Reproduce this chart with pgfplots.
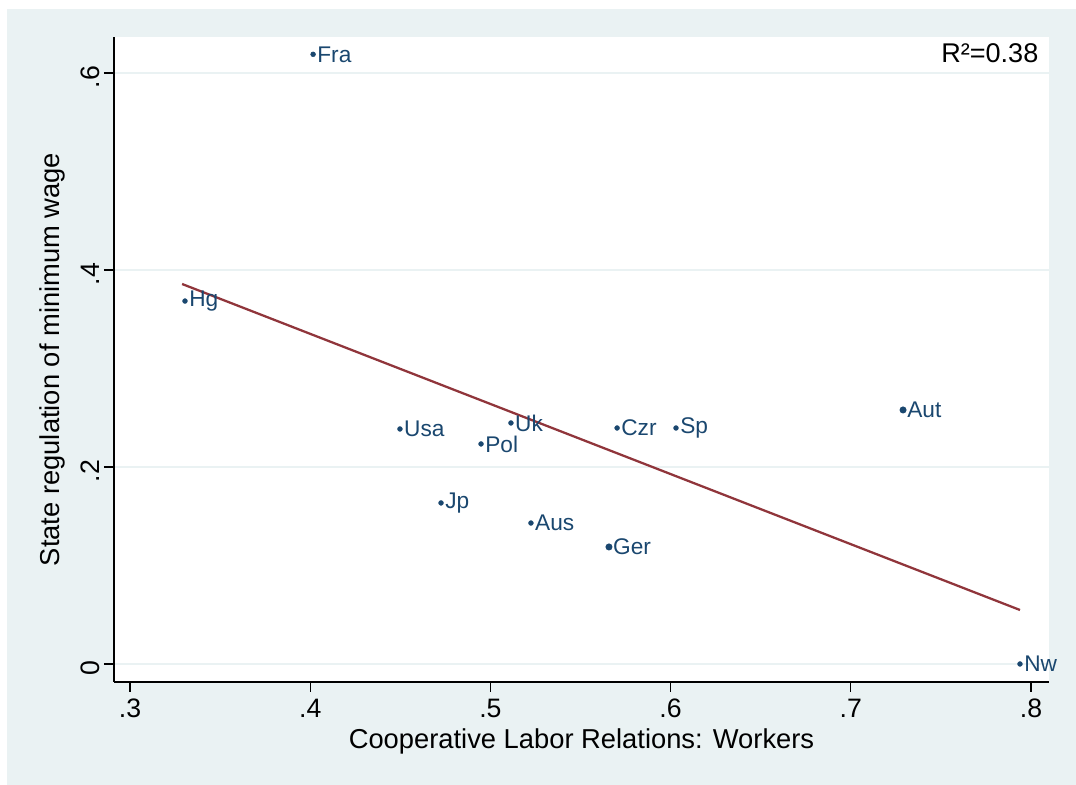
\documentclass[border=0pt]{standalone}
\usepackage{pgfplots}
\pgfplotsset{compat=1.18}
\usepackage{fontspec}
\setmainfont{Liberation Sans}
\definecolor{stbg}{HTML}{EAF2F3}
\definecolor{stnavy}{HTML}{1A476F}
\definecolor{stmaroon}{HTML}{90353B}
\begin{document}
\begin{tikzpicture}
% outer frame, 1px = 0.75pt
\path[use as bounding box, fill=white] (-85.5pt,-77.25pt) rectangle (721.5pt,511.5pt);
\fill[stbg] (-80.25pt,-77.25pt) rectangle (721.5pt,504.75pt);
\begin{axis}[
  scale only axis,
  width=701.25pt, height=483.75pt,
  axis background/.style={fill=white},
  xmin=0.2911, xmax=0.810,
  ymin=-0.0183, ymax=0.6366,
  axis x line*=bottom, axis y line*=left,
  axis line style={black, line width=1pt, -},
  tick align=outside,
  major tick length=7.5pt,
  tick style={black, line width=1pt},
  xtick={0.3,0.4,0.5,0.6,0.7,0.8},
  xticklabels={.3,.4,.5,.6,.7,.8},
  xticklabel style={yshift=-2pt},
  ytick={0,0.2,0.4,0.6},
  yticklabels={0,.2,.4,.6},
  yticklabel style={rotate=90, anchor=south, xshift=-3pt},
  ymajorgrids,
  major grid style={stbg, line width=1.1pt},
  tick label style={font=\fontsize{20}{23}\selectfont},
  label style={font=\fontsize{20.5}{24}\selectfont},
  xlabel={Cooperative Labor Relations: Workers},
  ylabel={State regulation of minimum wage},
  xlabel style={at={(axis description cs:0.5,-0.092)}, anchor=center},
  ylabel style={at={(axis description cs:-0.0663,0.5)}, anchor=center},
  clip=false,
]
% fitted line
\addplot[stmaroon, line width=1.7pt] coordinates {(0.3289,0.3858) (0.7939,0.0548)};
% countries
\addplot[only marks, mark=*, mark size=1.8pt, stnavy,
  nodes near coords, point meta=explicit symbolic,
  nodes near coords style={anchor=west, inner sep=3pt, text=stnavy,
    font=\fontsize{17}{20}\selectfont}]
  table[meta=lab] {
x y lab
0.4016 0.6190 Fra
0.3305 0.3685 Hg
0.4498 0.2386 Usa
0.5114 0.2447 Uk
0.4948 0.2234 Pol
0.5703 0.2396 Czr
0.6030 0.2396 Sp
0.4726 0.1635 Jp
0.5225 0.1431 Aus
0.5658 0.1188 Ger
0.7290 0.2579 Aut
0.7939 0.0000 Nw
};
\addplot[only marks, mark=*, mark size=2.4pt, stnavy] coordinates {(0.5658,0.1188) (0.7290,0.2579)};
\node[anchor=east, font=\fontsize{20.3}{24}\selectfont] at (axis description cs:0.9936,0.975) {R²=0.38};
\end{axis}
\end{tikzpicture}
\end{document}
